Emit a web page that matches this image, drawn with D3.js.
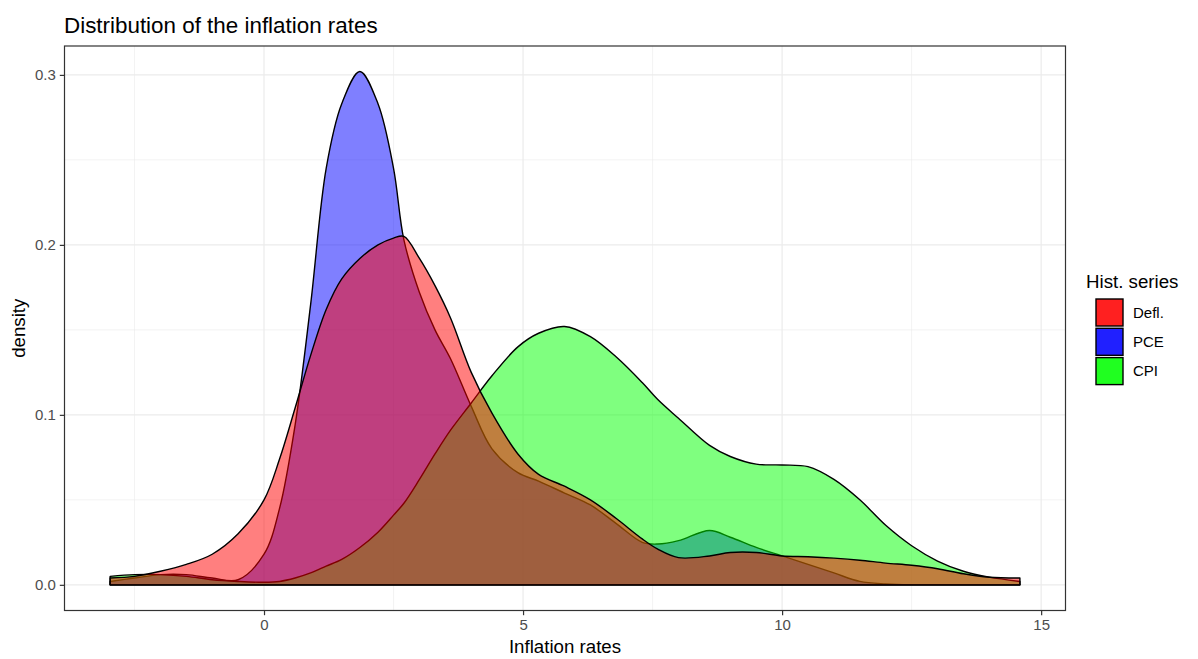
<!DOCTYPE html>
<html>
<head>
<meta charset="utf-8">
<script src="https://cdn.jsdelivr.net/npm/d3@7"></script>
<style>
  html, body { margin: 0; padding: 0; background: #ffffff; }
  svg { display: block; font-family: "Liberation Sans", Arial, Helvetica, sans-serif; }
</style>
</head>
<body>
<svg id="chart" width="1198" height="659"></svg>
<script>
// ---- data ----
const xGrid = [-2.97, -2.5, -2, -1.5, -1, -0.5, 0, 0.3, 0.6, 0.9, 1.2, 1.5, 1.85, 2.2, 2.5, 2.7, 3.0, 3.3, 3.6, 4.0, 4.4, 4.9, 5.3, 5.8, 6.3, 6.8, 7.3, 7.6, 8.0, 8.6, 9.0, 9.5, 10.0, 10.5, 11.0, 11.5, 12.0, 12.5, 13.0, 13.5, 14.0, 14.59];
const pceDensity = [0.002, 0.004, 0.006, 0.006, 0.004, 0.003, 0.018, 0.045, 0.094, 0.165, 0.245, 0.283, 0.302, 0.283, 0.245, 0.203, 0.172, 0.150, 0.133, 0.105, 0.080, 0.066, 0.061, 0.054, 0.047, 0.036, 0.025, 0.024, 0.026, 0.032, 0.028, 0.022, 0.017, 0.012, 0.007, 0.002, 0.0005, 0, 0, 0, 0, 0];
const cpiDensity = [0.005, 0.006, 0.006, 0.005, 0.003, 0.002, 0.0015, 0.002, 0.004, 0.007, 0.011, 0.015, 0.022, 0.031, 0.041, 0.048, 0.062, 0.077, 0.091, 0.107, 0.123, 0.140, 0.148, 0.152, 0.146, 0.134, 0.119, 0.109, 0.098, 0.082, 0.0755, 0.071, 0.0705, 0.0695, 0.062, 0.050, 0.035, 0.023, 0.014, 0.008, 0.0045, 0.002];
const deflDensity = [0.004, 0.005, 0.008, 0.012, 0.018, 0.030, 0.050, 0.074, 0.104, 0.135, 0.162, 0.180, 0.192, 0.200, 0.204, 0.205, 0.192, 0.176, 0.157, 0.125, 0.101, 0.077, 0.065, 0.058, 0.050, 0.039, 0.027, 0.021, 0.016, 0.017, 0.019, 0.019, 0.017, 0.0165, 0.0157, 0.0145, 0.0128, 0.0115, 0.0095, 0.0065, 0.0045, 0.004];

const seriesNames = ["Defl.", "PCE", "CPI"];          // legend order
const seriesColors = ["#ff0000", "#0000ff", "#00ff00"];
const keyColors = ["#ff2020", "#2020ff", "#20ff20"];
const drawOrder = ["PCE", "CPI", "Defl."];            // layer order seen in picture
const seriesValues = { "Defl.": deflDensity, "PCE": pceDensity, "CPI": cpiDensity };

const xTicks = [0, 5, 10, 15];
const xMinor = [-2.5, 2.5, 7.5, 12.5];
const yTicks = [0.0, 0.1, 0.2, 0.3];
const yMinor = [0.05, 0.15, 0.25];

// ---- layout ----
const panel = { left: 64.5, right: 1065.5, top: 46, bottom: 610.5 };
const svg = d3.select("#chart");

const x = d3.scaleLinear().domain([-3.851, 15.47]).range([panel.left, panel.right]);
const y = d3.scaleLinear().domain([-0.0151, 0.3170]).range([panel.bottom, panel.top]);

svg.append("rect").attr("x", panel.left).attr("y", panel.top)
  .attr("width", panel.right - panel.left).attr("height", panel.bottom - panel.top)
  .attr("fill", "#ffffff");

// grid
const grid = svg.append("g");
xMinor.forEach(v => grid.append("line").attr("x1", x(v)).attr("x2", x(v))
  .attr("y1", panel.top).attr("y2", panel.bottom).attr("stroke", "#ebebeb").attr("stroke-width", 0.6));
yMinor.forEach(v => grid.append("line").attr("y1", y(v)).attr("y2", y(v))
  .attr("x1", panel.left).attr("x2", panel.right).attr("stroke", "#ebebeb").attr("stroke-width", 0.6));
xTicks.forEach(v => grid.append("line").attr("x1", x(v)).attr("x2", x(v))
  .attr("y1", panel.top).attr("y2", panel.bottom).attr("stroke", "#ebebeb").attr("stroke-width", 1.2));
yTicks.forEach(v => grid.append("line").attr("y1", y(v)).attr("y2", y(v))
  .attr("x1", panel.left).attr("x2", panel.right).attr("stroke", "#ebebeb").attr("stroke-width", 1.2));

// densities
svg.append("clipPath").attr("id", "pclip").append("rect")
  .attr("x", panel.left).attr("y", panel.top)
  .attr("width", panel.right - panel.left).attr("height", panel.bottom - panel.top);

const area = d3.area()
  .x(d => x(d[0]))
  .y0(() => y(0))
  .y1(d => y(d[1]))
  .curve(d3.curveCatmullRom.alpha(0.5));

const layers = svg.append("g").attr("clip-path", "url(#pclip)");
drawOrder.forEach(name => {
  const vals = seriesValues[name];
  const pts = xGrid.map((xv, i) => [xv, vals[i]]);
  const idx = seriesNames.indexOf(name);
  layers.append("path")
    .attr("d", area(pts) + "Z")
    .attr("fill", seriesColors[idx])
    .attr("fill-opacity", 0.5)
    .attr("stroke", "#000000")
    .attr("stroke-width", 1.4)
    .attr("stroke-linejoin", "round");
});

// panel border
svg.append("rect").attr("x", panel.left).attr("y", panel.top)
  .attr("width", panel.right - panel.left).attr("height", panel.bottom - panel.top)
  .attr("fill", "none").attr("stroke", "#333333").attr("stroke-width", 1.2);

// axes
const xAxis = d3.axisBottom(x).tickValues(xTicks).tickFormat(d3.format("d")).tickSize(4.7).tickPadding(4);
const gx = svg.append("g").attr("transform", `translate(0,${panel.bottom})`).call(xAxis);
gx.select(".domain").remove();
gx.selectAll(".tick line").attr("stroke", "#333333").attr("stroke-width", 1.2);
gx.selectAll(".tick text").attr("fill", "#4d4d4d").attr("font-size", "15px")
  .attr("font-family", "'Liberation Sans', Arial, sans-serif");

const yAxis = d3.axisLeft(y).tickValues(yTicks).tickFormat(d3.format(".1f")).tickSize(4.7).tickPadding(4);
const gy = svg.append("g").attr("transform", `translate(${panel.left},0)`).call(yAxis);
gy.select(".domain").remove();
gy.selectAll(".tick line").attr("stroke", "#333333").attr("stroke-width", 1.2);
gy.selectAll(".tick text").attr("fill", "#4d4d4d").attr("font-size", "15px")
  .attr("font-family", "'Liberation Sans', Arial, sans-serif");

// titles
svg.append("text").attr("x", 64).attr("y", 33)
  .attr("font-size", "22.4px").attr("fill", "#000").text("Distribution of the inflation rates");
svg.append("text").attr("x", (panel.left + panel.right) / 2).attr("y", 653)
  .attr("text-anchor", "middle").attr("font-size", "18.7px").attr("fill", "#000").text("Inflation rates");
svg.append("text").attr("transform", `translate(25,${(panel.top + panel.bottom) / 2}) rotate(-90)`)
  .attr("text-anchor", "middle").attr("font-size", "18.7px").attr("fill", "#000").text("density");

// legend
const lg = svg.append("g");
lg.append("text").attr("x", 1086).attr("y", 288).attr("font-size", "18.7px").attr("fill", "#000").text("Hist. series");
seriesNames.forEach((name, i) => {
  const ky = 299 + i * 29.3;
  lg.append("rect").attr("x", 1096).attr("y", ky).attr("width", 27).attr("height", 27)
    .attr("fill", keyColors[i]).attr("stroke", "#000").attr("stroke-width", 1.4);
  lg.append("text").attr("x", 1133).attr("y", ky + 13.5).attr("dy", "0.35em")
    .attr("font-size", "15px").attr("fill", "#000").text(name);
});
</script>
</body>
</html>
